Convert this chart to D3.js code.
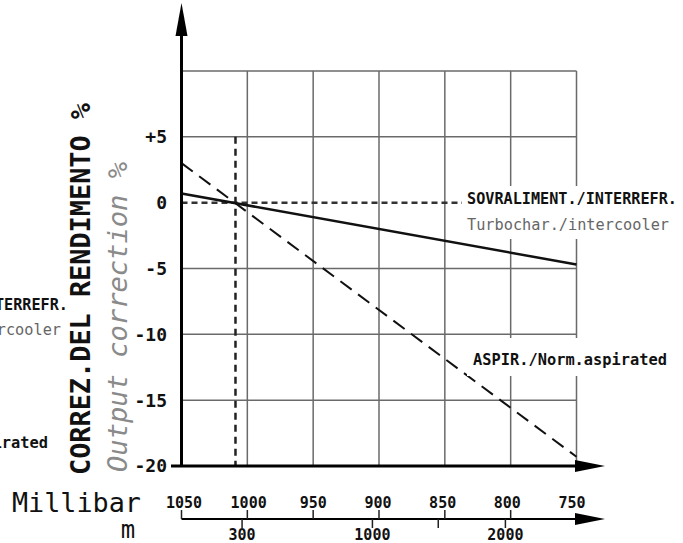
<!DOCTYPE html>
<html>
<head>
<meta charset="utf-8">
<script src="https://cdn.jsdelivr.net/npm/d3@7"></script>
<style>
  html, body { margin: 0; padding: 0; background: #fff; }
  svg { display: block; font-family: "DejaVu Sans Mono", "Liberation Mono", monospace; }
</style>
</head>
<body>
<svg id="chart" width="683" height="543"></svg>
<script>
// ---- data ----
const mbarTicks = [1050, 1000, 950, 900, 850, 800, 750];
const pctGrid = [10, 5, 0, -5, -10, -15, -20];
const pctLabels = [5, 0, -5, -10, -15, -20];
const altTicks = [300, 1000, 1500, 2000];
const altMbar = [1004, 905, 855, 804];   // millibar equivalent of each altitude tick
const altLabelled = [300, 1000, 2000];

const turboMbar = [1050, 750];
const turboPct = [0.7, -4.7];
const aspMbar = [1050, 750];
const aspPct = [3.0, -19.3];

const refMbar = 1009;          // vertical reference line
const refTop = 5;

const svg = d3.select('#chart');

const x = d3.scaleLinear().domain([1050, 750]).range([181.5, 576.5]);
const xLab = d3.scaleLinear().domain([1050, 750]).range([184, 572]);
const y = d3.scaleLinear().domain([-20, 10]).range([466, 71]);

const gridColor = '#6a6a6a';

// Grid - vertical
svg.append('g').selectAll('line')
    .data(mbarTicks.slice(1)).enter()
    .append('line')
    .attr('x1', d => x(d)).attr('x2', d => x(d))
    .attr('y1', y(10)).attr('y2', y(-20))
    .attr('stroke', gridColor).attr('stroke-width', 1.5);

// Grid - horizontal
svg.append('g').selectAll('line')
    .data(pctGrid.filter(d => d !== 0 && d !== -20)).enter()
    .append('line')
    .attr('x1', x(1050)).attr('x2', x(750))
    .attr('y1', d => y(d)).attr('y2', d => y(d))
    .attr('stroke', gridColor).attr('stroke-width', 1.5);

// Reference lines (dotted)
svg.append('line')
    .attr('x1', x(1050)).attr('x2', x(750))
    .attr('y1', y(0)).attr('y2', y(0))
    .attr('stroke', '#333').attr('stroke-width', 2.5)
    .attr('stroke-dasharray', '6,4');

svg.append('line')
    .attr('x1', x(refMbar)).attr('x2', x(refMbar))
    .attr('y1', y(refTop)).attr('y2', y(-20))
    .attr('stroke', '#222').attr('stroke-width', 2.5)
    .attr('stroke-dasharray', '7,5');

// Curves
const line = d3.line().x(d => x(d[0])).y(d => y(d[1]));

svg.append('path')
    .datum(aspMbar.map((m, i) => [m, aspPct[i]]))
    .attr('d', line)
    .attr('fill', 'none').attr('stroke', '#111').attr('stroke-width', 2)
    .attr('stroke-dasharray', '14,8');

svg.append('path')
    .datum(turboMbar.map((m, i) => [m, turboPct[i]]))
    .attr('d', line)
    .attr('fill', 'none').attr('stroke', '#111').attr('stroke-width', 2.5);

// Label backgrounds
svg.append('rect').attr('x', 462).attr('y', 186).attr('width', 221).attr('height', 53).attr('fill', '#fff');
svg.append('rect').attr('x', 467).attr('y', 338).attr('width', 216).attr('height', 38).attr('fill', '#fff');

// Series labels
const labels = [
    { t: 'SOVRALIMENT./INTERREFR.', x: 467, y: 204, w: 210, bold: true, c: '#111', anchor: 'start' },
    { t: 'Turbochar./intercooler', x: 467, y: 230, w: 202, bold: false, c: '#666', anchor: 'start' },
    { t: 'ASPIR./Norm.aspirated', x: 473, y: 365, w: 194, bold: true, c: '#111', anchor: 'start' },
    // clipped copies on the far left
    { t: 'SOVRALIMENT./INTERREFR.', x: -142, y: 310, w: 210, bold: true, c: '#111', anchor: 'start' },
    { t: 'Turbochar./intercooler', x: -141, y: 335, w: 202, bold: false, c: '#666', anchor: 'start' },
    { t: 'ASPIR./Norm.aspirated', x: -146, y: 448, w: 194, bold: true, c: '#111', anchor: 'start' }
];
svg.append('g').selectAll('text')
    .data(labels).enter()
    .append('text')
    .attr('x', d => d.x).attr('y', d => d.y)
    .attr('font-size', 15)
    .attr('font-weight', d => d.bold ? 'bold' : 'normal')
    .attr('fill', d => d.c)
    .attr('textLength', d => d.w)
    .attr('lengthAdjust', 'spacingAndGlyphs')
    .text(d => d.t);

// Main axes
svg.append('line')
    .attr('x1', x(1050)).attr('x2', x(1050))
    .attr('y1', y(-20)).attr('y2', 30)
    .attr('stroke', '#000').attr('stroke-width', 3);
svg.append('path')
    .attr('d', `M${x(1050) - 6},36 L${x(1050)},3 L${x(1050) + 6},36 Z`)
    .attr('fill', '#000');

svg.append('line')
    .attr('x1', 171).attr('x2', 580)
    .attr('y1', y(-20)).attr('y2', y(-20))
    .attr('stroke', '#000').attr('stroke-width', 3);
svg.append('path')
    .attr('d', `M575,${y(-20) - 6} L605,${y(-20)} L575,${y(-20) + 6} Z`)
    .attr('fill', '#000');

// Y tick labels
svg.append('g').selectAll('text')
    .data(pctLabels).enter()
    .append('text')
    .attr('x', 167).attr('y', d => y(d)).attr('dy', '0.36em')
    .attr('text-anchor', 'end')
    .attr('font-size', 18).attr('font-weight', 'bold').attr('fill', '#111')
    .text(d => d > 0 ? '+' + d : d);

// Y titles
svg.append('text')
    .attr('transform', 'translate(90,475) rotate(-90)')
    .attr('font-size', 27).attr('font-weight', 'bold').attr('fill', '#111')
    .attr('textLength', 372).attr('lengthAdjust', 'spacingAndGlyphs')
    .text('CORREZ.DEL RENDIMENTO %');

svg.append('text')
    .attr('transform', 'translate(127,472) rotate(-90)')
    .attr('font-size', 27).attr('font-style', 'italic').attr('fill', '#8a8a8a')
    .attr('textLength', 310).attr('lengthAdjust', 'spacingAndGlyphs')
    .text('Output correction %');

// Secondary axis (millibar / altitude)
const axY = 519;
svg.append('line')
    .attr('x1', x(1050)).attr('x2', 580)
    .attr('y1', axY).attr('y2', axY)
    .attr('stroke', '#000').attr('stroke-width', 2);
svg.append('path')
    .attr('d', `M575,${axY - 6} L605,${axY} L575,${axY + 6} Z`)
    .attr('fill', '#000');

svg.append('g').selectAll('line')
    .data(mbarTicks.slice(0, -1)).enter()
    .append('line')
    .attr('x1', d => x(d)).attr('x2', d => x(d))
    .attr('y1', axY - 9).attr('y2', axY)
    .attr('stroke', '#222').attr('stroke-width', 1.5);

svg.append('g').selectAll('text')
    .data(mbarTicks).enter()
    .append('text')
    .attr('x', d => xLab(d)).attr('y', 508)
    .attr('text-anchor', 'middle')
    .attr('font-size', 15).attr('font-weight', 'bold').attr('fill', '#111')
    .text(d => d);

svg.append('g').selectAll('line')
    .data(altTicks).enter()
    .append('line')
    .attr('x1', (d, i) => x(altMbar[i])).attr('x2', (d, i) => x(altMbar[i]))
    .attr('y1', axY).attr('y2', axY + 9)
    .attr('stroke', '#222').attr('stroke-width', 1.5);

svg.append('g').selectAll('text')
    .data(altTicks.filter(d => altLabelled.includes(d))).enter()
    .append('text')
    .attr('x', d => x(altMbar[altTicks.indexOf(d)])).attr('y', 540)
    .attr('text-anchor', 'middle')
    .attr('font-size', 15).attr('font-weight', 'bold').attr('fill', '#111')
    .text(d => d);

svg.append('text')
    .attr('x', 12).attr('y', 512)
    .attr('font-size', 27).attr('fill', '#111')
    .attr('textLength', 129).attr('lengthAdjust', 'spacingAndGlyphs')
    .text('Millibar');

svg.append('text')
    .attr('x', 128).attr('y', 538)
    .attr('text-anchor', 'middle')
    .attr('font-size', 24).attr('fill', '#111')
    .text('m');
</script>
</body>
</html>
